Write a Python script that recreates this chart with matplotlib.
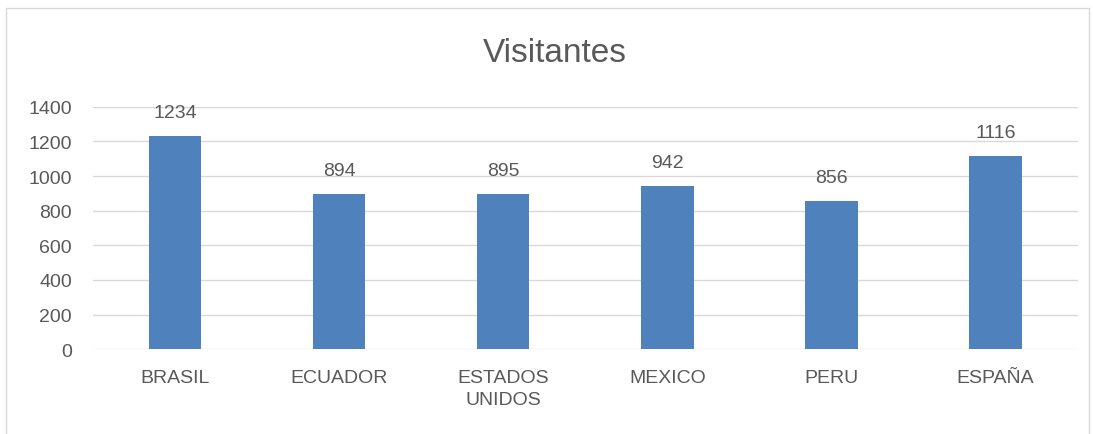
import matplotlib.pyplot as plt
from matplotlib.patches import Rectangle

paises = ["BRASIL", "ECUADOR", "ESTADOS\nUNIDOS", "MEXICO", "PERU", "ESPAÑA"]
visitantes = [1234, 894, 895, 942, 856, 1116]
yticks = [0, 200, 400, 600, 800, 1000, 1200, 1400]

plt.rcParams['font.family'] = ['Liberation Sans', 'DejaVu Sans']
gris = '#595959'

fig = plt.figure(figsize=(10.93, 4.35), dpi=100)
ax = fig.add_axes([0.085, 0.195, 0.901, 0.557])

x = range(len(paises))
bars = ax.bar(x, visitantes, width=0.32, color='#4F81BD', zorder=3)
for b, v in zip(bars, visitantes):
    ax.annotate(str(v), (b.get_x() + b.get_width() / 2, v), xytext=(0, 15),
                textcoords='offset pixels', ha='center', va='bottom',
                fontsize=14, color=gris)

ax.set_xlim(-0.5, len(paises) - 0.5)
ax.set_ylim(0, 1400)
ax.set_yticks(yticks)
ax.set_xticks(list(x))
ax.set_xticklabels(paises, fontsize=14, color=gris, va='top', linespacing=1.45)
ax.tick_params(axis='y', labelsize=14, labelcolor=gris, length=0, pad=15)
ax.tick_params(axis='x', length=0, pad=14)
ax.grid(axis='y', color='#D9D9D9', linewidth=1, zorder=0)
for s in ax.spines.values():
    s.set_visible(False)

fig.text(0.508, 0.876, "Visitantes", ha='center', va='center', fontsize=24, color=gris)

# borde del gráfico
fig.patches.append(Rectangle((6 / 1093, -0.05), 1083 / 1093, 1.05 - 9 / 435,
                             transform=fig.transFigure, fill=False,
                             edgecolor='#D9D9D9', linewidth=1))

plt.savefig("out.png", dpi=100)
